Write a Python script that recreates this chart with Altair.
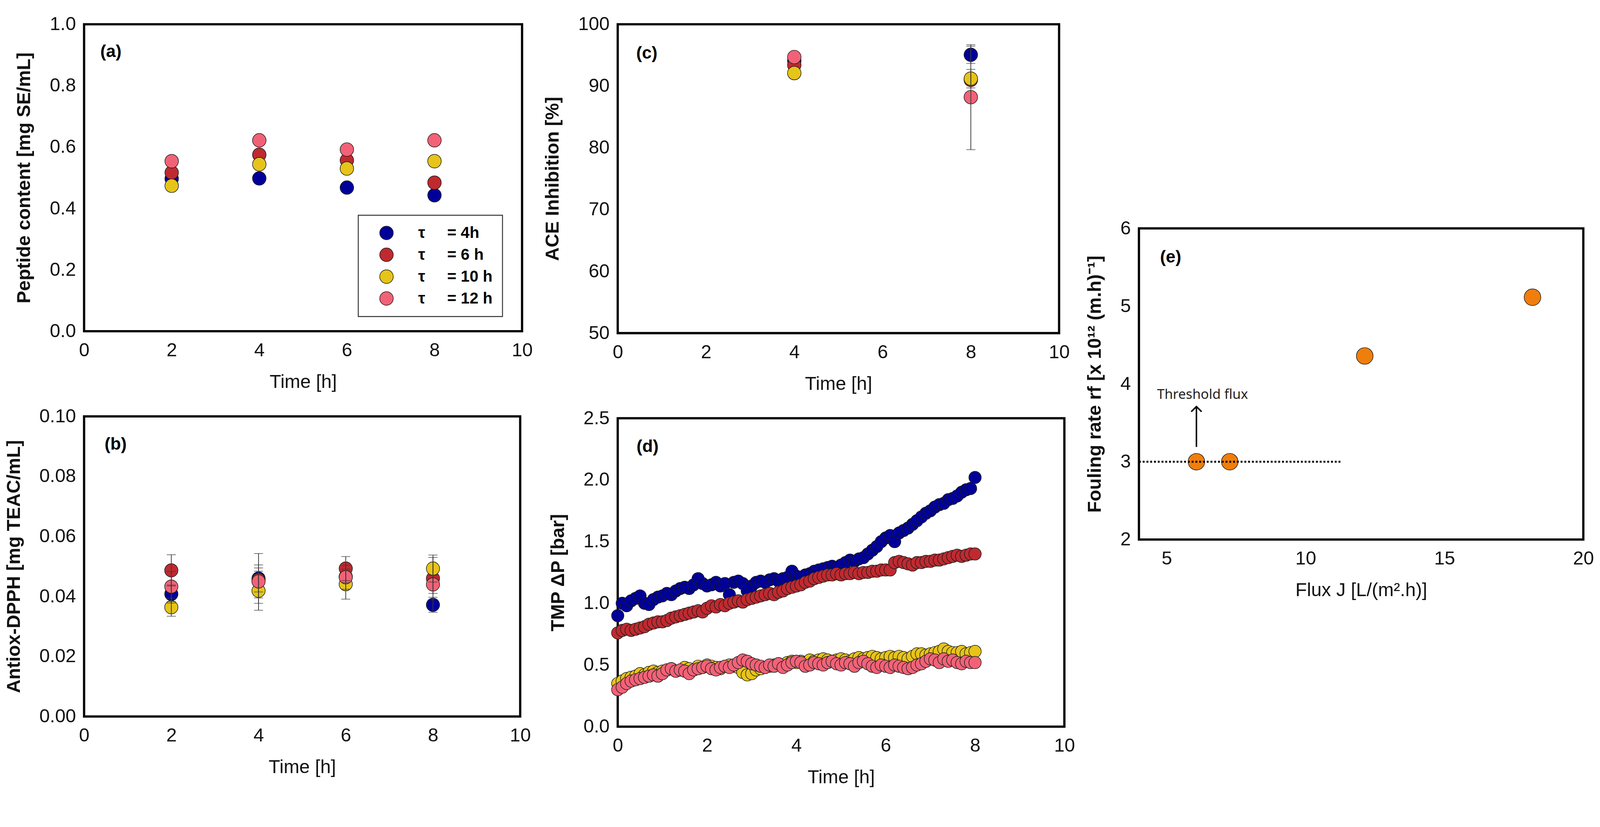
import altair as alt
import pandas as pd

FONT = "Liberation Sans"
NBSP = "\u00a0"

# ---------------- series definitions ----------------
series_names = ["= 4h", "= 6 h", "= 10 h", "= 12 h"]
series_colors = ["#000099", "#BE2A30", "#E6C419", "#F26277"]

# ---------------- (a) peptide content ----------------
time_a = [2, 4, 6, 8]
pep_4h = [0.497, 0.498, 0.468, 0.443]
pep_6h = [0.517, 0.575, 0.557, 0.484]
pep_10h = [0.474, 0.544, 0.530, 0.554]
pep_12h = [0.554, 0.622, 0.592, 0.622]

# ---------------- (b) antiox-DPPH ----------------
time_b = [2, 4, 6, 8]
dpph_4h = [0.0408, 0.0460, 0.0466, 0.0372]
dpph_4h_err = [0.0030, 0.0083, 0.0020, 0.0025]
dpph_6h = [0.0487, 0.0455, 0.0493, 0.0460]
dpph_6h_err = [0.0052, 0.0040, 0.0040, 0.0070]
dpph_10h = [0.0364, 0.0419, 0.0441, 0.0493]
dpph_10h_err = [0.0030, 0.0065, 0.0050, 0.0045]
dpph_12h = [0.0433, 0.0450, 0.0464, 0.0440]
dpph_12h_err = [0.0050, 0.0055, 0.0040, 0.0030]

# ---------------- (c) ACE inhibition ----------------
time_c = [4, 8]
ace_4h = [94.1, 95.06]
ace_4h_err = [None, 1.4]
ace_6h = [93.4, 91.0]
ace_6h_err = [None, None]
ace_10h = [92.1, 91.2]
ace_10h_err = [None, 1.5]
ace_12h = [94.7, 88.2]
ace_12h_err = [None, 8.5]

# ---------------- (d) TMP ----------------
tmp_time = [0.0, 0.1, 0.2, 0.3, 0.4, 0.5, 0.6, 0.7, 0.8, 0.9,
            1.0, 1.1, 1.2, 1.3, 1.4, 1.5, 1.6, 1.7, 1.8, 1.9,
            2.0, 2.1, 2.2, 2.3, 2.4, 2.5, 2.6, 2.7, 2.8, 2.9,
            3.0, 3.1, 3.2, 3.3, 3.4, 3.5, 3.6, 3.7, 3.8, 3.9,
            4.0, 4.1, 4.2, 4.3, 4.4, 4.5, 4.6, 4.7, 4.8, 4.9,
            5.0, 5.1, 5.2, 5.3, 5.4, 5.5, 5.6, 5.7, 5.8, 5.9,
            6.0, 6.1, 6.2, 6.3, 6.4, 6.5, 6.6, 6.7, 6.8, 6.9,
            7.0, 7.1, 7.2, 7.3, 7.4, 7.5, 7.6, 7.7, 7.8, 7.9,
            8.0]
tmp_4h = [0.90, 1.00, 0.98, 1.02, 1.04, 1.06, 1.00, 0.99, 1.03, 1.05,
          1.06, 1.08, 1.07, 1.10, 1.12, 1.13, 1.12, 1.15, 1.20, 1.16,
          1.14, 1.15, 1.17, 1.14, 1.16, 1.07, 1.17, 1.18, 1.16, 1.10,
          1.14, 1.17, 1.18, 1.17, 1.19, 1.20, 1.18, 1.20, 1.21, 1.26,
          1.22, 1.21, 1.23, 1.24, 1.26, 1.27, 1.28, 1.29, 1.30, 1.29,
          1.31, 1.33, 1.35, 1.34, 1.36, 1.37, 1.40, 1.43, 1.46, 1.50,
          1.53, 1.55, 1.50, 1.57, 1.59, 1.61, 1.64, 1.67, 1.70, 1.73,
          1.75, 1.78, 1.80, 1.81, 1.84, 1.85, 1.87, 1.90, 1.92, 1.93,
          2.02]
tmp_6h = [0.76, 0.78, 0.79, 0.78, 0.79, 0.80, 0.81, 0.83, 0.84, 0.85,
          0.85, 0.86, 0.88, 0.89, 0.90, 0.91, 0.92, 0.93, 0.94, 0.93,
          0.96, 0.98, 0.97, 0.99, 0.98, 1.00, 1.01, 1.02, 1.01, 1.03,
          1.04, 1.05, 1.06, 1.07, 1.08, 1.07, 1.09, 1.10, 1.12, 1.13,
          1.14, 1.15, 1.17, 1.18, 1.20, 1.21, 1.22, 1.23, 1.23, 1.24,
          1.23, 1.24, 1.24, 1.25, 1.24, 1.25, 1.25, 1.26, 1.26, 1.27,
          1.27, 1.27, 1.33, 1.34, 1.33, 1.32, 1.31, 1.33, 1.33, 1.34,
          1.34, 1.35, 1.35, 1.36, 1.37, 1.38, 1.39, 1.38, 1.39, 1.40,
          1.40]
tmp_10h = [0.35, 0.37, 0.39, 0.40, 0.41, 0.43, 0.42, 0.44, 0.45, 0.44,
           0.45, 0.46, 0.47, 0.45, 0.46, 0.48, 0.47, 0.46, 0.49, 0.48,
           0.50, 0.49, 0.48, 0.47, 0.49, 0.50, 0.49, 0.48, 0.44, 0.42,
           0.43, 0.46, 0.47, 0.48, 0.49, 0.50, 0.51, 0.50, 0.52, 0.53,
           0.52, 0.53, 0.52, 0.54, 0.53, 0.54, 0.55, 0.54, 0.53, 0.54,
           0.55, 0.54, 0.53, 0.55, 0.56, 0.55, 0.56, 0.57, 0.56, 0.55,
           0.56, 0.57, 0.56, 0.57, 0.56, 0.55, 0.57, 0.59, 0.59, 0.58,
           0.59, 0.60, 0.61, 0.63, 0.61, 0.60, 0.60, 0.61, 0.59, 0.60,
           0.61]
tmp_12h = [0.30, 0.32, 0.35, 0.37, 0.38, 0.39, 0.40, 0.41, 0.42, 0.41,
           0.43, 0.46, 0.47, 0.45, 0.46, 0.45, 0.43, 0.46, 0.47, 0.48,
           0.49, 0.47, 0.46, 0.48, 0.49, 0.48, 0.50, 0.52, 0.54, 0.53,
           0.51, 0.50, 0.49, 0.48, 0.50, 0.49, 0.51, 0.48, 0.50, 0.52,
           0.53, 0.52, 0.49, 0.50, 0.52, 0.51, 0.50, 0.52, 0.53, 0.51,
           0.50, 0.52, 0.51, 0.49, 0.52, 0.53, 0.51, 0.49, 0.48, 0.50,
           0.49, 0.48, 0.50, 0.49, 0.48, 0.47, 0.48, 0.50, 0.51, 0.53,
           0.55, 0.54, 0.52, 0.55, 0.53, 0.54, 0.52, 0.51, 0.53, 0.52,
           0.52]

# ---------------- (e) fouling rate ----------------
flux_j = [6.07, 7.27, 12.13, 18.17]
fouling_rf = [3.0, 3.0, 4.36, 5.115]
threshold_level = [3.0]
threshold_line_x = [4.0]
threshold_line_x2 = [11.3]
arrow_x = [6.07]
arrow_y_from = [3.19]
arrow_y_to = [3.71]
threshold_text = ["Threshold flux"]
threshold_text_xy = [4.65, 3.86]

# panel letters and their positions (data units of each panel)
panel_letters = ["(a)", "(b)", "(c)", "(d)", "(e)"]
panel_letter_x = [0.37, 0.47, 0.42, 0.42, 4.76]
panel_letter_y = [0.91, 0.0907, 95.3, 2.27, 5.63]


# ---------------- helpers ----------------
def long_df(xs, vals_list, errs_list=None):
    rows = []
    for i, (name, vals) in enumerate(zip(series_names, vals_list)):
        errs = errs_list[i] if errs_list is not None else [None] * len(vals)
        for x, v, e in zip(xs, vals, errs):
            row = {"x": x, "y": v, "s": name}
            if e is not None:
                row["lo"] = v - e
                row["hi"] = v + e
            rows.append(row)
    return pd.DataFrame(rows)


def enc_x(field, dom, vals, title):
    return alt.X(f"{field}:Q",
                 scale=alt.Scale(domain=dom, nice=False, zero=False),
                 axis=alt.Axis(values=vals, title=title, format="d", labelFlush=False))


def enc_y(field, dom, vals, title, fmt):
    return alt.Y(f"{field}:Q",
                 scale=alt.Scale(domain=dom, nice=False, zero=False),
                 axis=alt.Axis(values=vals, title=title, format=fmt))


color_scale = alt.Scale(domain=series_names, range=series_colors)


def letter_layer(idx, X, Y):
    df = pd.DataFrame({"x": [panel_letter_x[idx]], "y": [panel_letter_y[idx]],
                       "t": [panel_letters[idx]]})
    return alt.Chart(df).mark_text(align="left", baseline="middle", font=FONT,
                                   fontWeight="bold", fontSize=46, color="black").encode(
        x=X, y=Y, text="t:N")


def scatter_panel(idx, xs, vals_list, errs_list, xdom, xvals, ydom, yvals, ytitle, yfmt,
                  width, height, size, legend=None):
    df = long_df(xs, vals_list, errs_list)
    X = enc_x("x", xdom, xvals, "Time [h]")
    Y = enc_y("y", ydom, yvals, ytitle, yfmt)
    pts = alt.Chart(df).mark_circle(size=size, opacity=1, stroke="#1a1a1a",
                                    strokeWidth=1.5).encode(
        x=X, y=Y,
        color=alt.Color("s:N", scale=color_scale, legend=legend, sort=series_names))
    layers = [pts]
    if errs_list is not None:
        edf = df.dropna(subset=["lo"])
        Ylo = enc_y("lo", ydom, yvals, ytitle, yfmt)
        Yhi = enc_y("hi", ydom, yvals, ytitle, yfmt)
        rule = alt.Chart(edf).mark_rule(color="#3a3a3a", strokeWidth=2).encode(
            x=X, y=Ylo, y2="hi:Q")
        cap_lo = alt.Chart(edf).mark_tick(orient="horizontal", size=24, thickness=2,
                                          color="#3a3a3a").encode(x=X, y=Ylo)
        cap_hi = alt.Chart(edf).mark_tick(orient="horizontal", size=24, thickness=2,
                                          color="#3a3a3a").encode(x=X, y=Yhi)
        layers += [rule, cap_lo, cap_hi]
    layers.append(letter_layer(idx, X, Y))
    return alt.layer(*layers).properties(width=width, height=height)


legend_a = alt.Legend(
    orient="none", legendX=728, legendY=507, title=None,
    symbolType="circle", symbolSize=1300, symbolStrokeColor="#1a1a1a",
    symbolStrokeWidth=1.5, symbolOffset=28,
    labelFont=FONT, labelFontSize=42, labelFontWeight="bold", labelColor="black",
    labelOffset=63, padding=26, labelLimit=500,
    strokeColor="#333333", fillColor="white",
    labelExpr="'τ" + NBSP * 5 + "' + datum.label",
)

panel_a = scatter_panel(0, time_a, [pep_4h, pep_6h, pep_10h, pep_12h], None,
                        [0, 10], [0, 2, 4, 6, 8, 10], [0, 1.0],
                        [0, 0.2, 0.4, 0.6, 0.8, 1.0], "Peptide content [mg SE/mL]", ".1f",
                        1163, 815, 1300, legend=legend_a)

panel_b = scatter_panel(1, time_b, [dpph_4h, dpph_6h, dpph_10h, dpph_12h],
                        [dpph_4h_err, dpph_6h_err, dpph_10h_err, dpph_12h_err],
                        [0, 10], [0, 2, 4, 6, 8, 10], [0, 0.1],
                        [0, 0.02, 0.04, 0.06, 0.08, 0.1], "Antiox-DPPH [mg TEAC/mL]", ".2f",
                        1158, 797, 1250)

panel_c = scatter_panel(2, time_c, [ace_4h, ace_6h, ace_10h, ace_12h],
                        [ace_4h_err, ace_6h_err, ace_10h_err, ace_12h_err],
                        [0, 10], [0, 2, 4, 6, 8, 10], [50, 100],
                        [50, 60, 70, 80, 90, 100], "ACE Inhibition [%]", "d",
                        1172, 820, 1300)

panel_d = scatter_panel(3, tmp_time, [tmp_4h, tmp_6h, tmp_10h, tmp_12h], None,
                        [0, 10], [0, 2, 4, 6, 8, 10], [0, 2.5],
                        [0, 0.5, 1.0, 1.5, 2.0, 2.5], "TMP ΔP [bar]", ".1f",
                        1186, 819, 1075)

# ---------------- (e) ----------------
Xe = enc_x("x", [4, 20], [5, 10, 15, 20], "Flux J [L/(m².h)]")
Ye = enc_y("y", [2, 6], [2, 3, 4, 5, 6], "Fouling rate rf [x 10¹² (m.h)⁻¹]", "d")
df_e = pd.DataFrame({"x": flux_j, "y": fouling_rf})
pts_e = alt.Chart(df_e).mark_circle(size=1960, opacity=1, color="#F07E0C",
                                    stroke="#1a1a1a", strokeWidth=1.5).encode(x=Xe, y=Ye)
df_line = pd.DataFrame({"x": threshold_line_x, "x2": threshold_line_x2, "y": threshold_level})
line_e = alt.Chart(df_line).mark_rule(color="black", strokeWidth=5, strokeDash=[5, 5]).encode(
    x=Xe, x2="x2:Q", y=Ye)
df_arrow = pd.DataFrame({"x": arrow_x, "y": arrow_y_from, "y2": arrow_y_to})
arrow_e = alt.Chart(df_arrow).mark_rule(color="black", strokeWidth=4).encode(
    x=Xe, y=Ye, y2="y2:Q")
df_head = pd.DataFrame({"x": arrow_x, "y": arrow_y_to})
head_e = alt.Chart(df_head).mark_point(shape="M-0.6,0.6L0,0L0.6,0.6", filled=False,
                                       size=2100, strokeWidth=4, color="black",
                                       opacity=1).encode(x=Xe, y=Ye)
df_txt = pd.DataFrame({"x": [threshold_text_xy[0]], "y": [threshold_text_xy[1]],
                       "t": threshold_text})
text_e = alt.Chart(df_txt).mark_text(align="left", baseline="middle", font="Noto Sans",
                                     fontSize=36, color="#222222").encode(
    x=Xe, y=Ye, text="t:N")
panel_e = alt.layer(pts_e, line_e, arrow_e, head_e, text_e, letter_layer(4, Xe, Ye)).properties(
    width=1180, height=826)

# invisible spacer that pushes panel (e) down to the middle of the figure
spacer_df = pd.DataFrame({"v": [0]})
spacer = alt.Chart(spacer_df).mark_point(opacity=0).encode(
    x=alt.X("v:Q", axis=None), y=alt.Y("v:Q", axis=None)
).properties(width=1180, height=514, view=alt.ViewBackground(strokeOpacity=0))

col1 = alt.vconcat(panel_a, panel_b, spacing=35).resolve_scale(
    x="independent", y="independent", color="independent").resolve_legend(color="independent")
col2 = alt.vconcat(panel_c, panel_d, spacing=35).resolve_scale(
    x="independent", y="independent", color="independent").resolve_legend(color="independent")
col3 = alt.vconcat(spacer, panel_e, spacing=0).resolve_scale(
    x="independent", y="independent")

chart = alt.hconcat(col1, col2, col3, spacing=22).resolve_scale(
    x="independent", y="independent", color="independent").resolve_legend(
    color="independent").properties(
    padding={"left": 0, "top": -10, "right": 5, "bottom": 5},
    background="white",
).configure_view(
    stroke="black", strokeWidth=6
).configure_axis(
    grid=False, domain=False, ticks=False,
    labelFont=FONT, labelFontSize=50, labelColor="#111111",
    titleFont=FONT, titleFontSize=50, titleColor="#111111",
).configure_axisX(
    titleFontWeight="normal", labelPadding=26, titlePadding=34
).configure_axisY(
    titleFontWeight="bold", labelPadding=22, titlePadding=42
).configure_legend(
    strokeWidth=2.5, rowPadding=14
)

chart.save("out.html", embed_options={"renderer": "svg", "actions": False})
